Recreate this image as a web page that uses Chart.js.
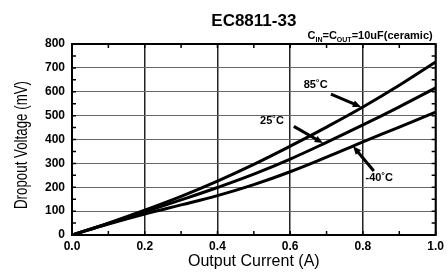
<!DOCTYPE html>
<html>
<head>
<meta charset="utf-8">
<script src="https://cdn.jsdelivr.net/npm/chart.js@4"></script>
<style>
  html, body { margin: 0; padding: 0; background: #fff; }
  #chart { display: block; }
</style>
</head>
<body>
<canvas id="chart" width="448" height="275"></canvas>
<script>
  // Output current (A) and dropout voltage (mV) per temperature
  const currents = [0, 0.1, 0.2, 0.3, 0.4, 0.5, 0.6, 0.7, 0.8, 0.9, 1.0];
  const drop85 = [0, 50, 104, 162, 226, 296, 372, 452, 536, 627, 725];
  const drop25 = [0, 48, 97, 147, 199, 255, 318, 388, 461, 537, 616];
  const dropM40 = [0, 46, 88, 126, 165, 211, 265, 326, 390, 452, 515];

  const seriesNames = ['85˚C', '25˚C', '-40˚C'];
  const xTicks = [0, 0.2, 0.4, 0.6, 0.8, 1.0];
  const yTicks = [0, 100, 200, 300, 400, 500, 600, 700, 800];

  // label text position + arrow (from -> to), in data units
  const callouts = [
    { text: seriesNames[0], tx: 0.67, ty: 628, from: [0.712, 590], to: [0.795, 536] },
    { text: seriesNames[1], tx: 0.55, ty: 478, from: [0.61, 455], to: [0.69, 385] },
    { text: seriesNames[2], tx: 0.845, ty: 240, from: [0.83, 268], to: [0.773, 372] }
  ];

  const toPoints = ys => currents.map((x, i) => ({ x: x, y: ys[i] }));

  const lineStyle = {
    borderColor: '#000',
    borderWidth: 3,
    pointRadius: 0,
    fill: false,
    tension: 0.4
  };

  const FONT = '"Liberation Sans", Arial, sans-serif';

  const framePlugin = {
    id: 'frame',
    afterDatasetsDraw(chart) {
      const { ctx, chartArea: a, scales } = chart;
      const xs = scales.x, ys = scales.y;
      ctx.save();

      // minor ticks, pointing inward
      ctx.strokeStyle = '#000';
      ctx.lineWidth = 1.5;
      for (let v = 0; v <= 1.0001; v += 0.1) {
        const px = xs.getPixelForValue(v);
        ctx.beginPath();
        ctx.moveTo(px, a.bottom); ctx.lineTo(px, a.bottom - 4);
        ctx.moveTo(px, a.top); ctx.lineTo(px, a.top + 4);
        ctx.stroke();
      }
      for (let v = 0; v <= 800; v += 50) {
        const py = ys.getPixelForValue(v);
        ctx.beginPath();
        ctx.moveTo(a.left, py); ctx.lineTo(a.left + 4, py);
        ctx.moveTo(a.right, py); ctx.lineTo(a.right - 4, py);
        ctx.stroke();
      }

      // plot border
      ctx.lineWidth = 2;
      ctx.strokeRect(a.left, a.top, a.right - a.left, a.bottom - a.top);

      // callouts
      callouts.forEach(c => {
        const x1 = xs.getPixelForValue(c.from[0]), y1 = ys.getPixelForValue(c.from[1]);
        const x2 = xs.getPixelForValue(c.to[0]), y2 = ys.getPixelForValue(c.to[1]);
        const ang = Math.atan2(y2 - y1, x2 - x1);
        const head = 9;
        ctx.lineWidth = 3;
        ctx.beginPath();
        ctx.moveTo(x1, y1);
        ctx.lineTo(x2 - Math.cos(ang) * head * 0.8, y2 - Math.sin(ang) * head * 0.8);
        ctx.stroke();
        ctx.beginPath();
        ctx.moveTo(x2, y2);
        ctx.lineTo(x2 - head * Math.cos(ang - 0.4), y2 - head * Math.sin(ang - 0.4));
        ctx.lineTo(x2 - head * Math.cos(ang + 0.4), y2 - head * Math.sin(ang + 0.4));
        ctx.closePath();
        ctx.fillStyle = '#000';
        ctx.fill();

        ctx.font = 'bold 11px ' + FONT;
        ctx.textAlign = 'center';
        ctx.textBaseline = 'middle';
        ctx.fillText(c.text, xs.getPixelForValue(c.tx), ys.getPixelForValue(c.ty));
      });

      // title
      ctx.fillStyle = '#000';
      ctx.font = 'bold 17px ' + FONT;
      ctx.textAlign = 'center';
      ctx.textBaseline = 'middle';
      ctx.fillText('EC8811-33', (a.left + a.right) / 2, 21);

      // subtitle with subscripts, right aligned
      const parts = [['C', 0], ['IN', 1], ['=C', 0], ['OUT', 1], ['=10uF(ceramic)', 0]];
      const big = 'bold 11px ' + FONT, small = 'bold 7px ' + FONT;
      let w = 0;
      parts.forEach(p => { ctx.font = p[1] ? small : big; w += ctx.measureText(p[0]).width; });
      let x = a.right - 3 - w;
      ctx.textAlign = 'left';
      ctx.textBaseline = 'alphabetic';
      parts.forEach(p => {
        ctx.font = p[1] ? small : big;
        ctx.fillText(p[0], x, p[1] ? 42 : 39);
        x += ctx.measureText(p[0]).width;
      });

      // y axis title, condensed like the original narrow face
      ctx.save();
      ctx.translate(22, 145);
      ctx.rotate(-Math.PI / 2);
      ctx.scale(0.74, 1);
      ctx.font = '18px ' + FONT;
      ctx.textAlign = 'center';
      ctx.textBaseline = 'middle';
      ctx.fillText('Dropout Voltage (mV)', 0, 0);
      ctx.restore();

      ctx.restore();
    }
  };

  new Chart(document.getElementById('chart'), {
    type: 'line',
    data: {
      datasets: [
        { label: seriesNames[0], data: toPoints(drop85), ...lineStyle },
        { label: seriesNames[1], data: toPoints(drop25), ...lineStyle },
        { label: seriesNames[2], data: toPoints(dropM40), ...lineStyle }
      ]
    },
    options: {
      responsive: false,
      animation: false,
      devicePixelRatio: 1,
      layout: { padding: { left: 0, right: 11, top: 44, bottom: 0 } },
      plugins: { legend: { display: false }, tooltip: { enabled: false } },
      scales: {
        x: {
          type: 'linear',
          min: 0, max: 1,
          afterBuildTicks: s => { s.ticks = xTicks.map(v => ({ value: v })); },
          afterFit: s => { s.height = 40; },
          ticks: {
            color: '#000',
            padding: 4,
            maxRotation: 0,
            font: { family: FONT, size: 12, weight: 'bold' },
            callback: v => v.toFixed(1)
          },
          grid: { color: '#222', lineWidth: 1.5, drawTicks: false },
          border: { display: false },
          title: {
            display: true,
            text: 'Output Current (A)',
            color: '#000',
            font: { family: FONT, size: 16 },
            padding: { top: 0, bottom: 4 }
          }
        },
        y: {
          min: 0, max: 800,
          afterBuildTicks: s => { s.ticks = yTicks.map(v => ({ value: v })); },
          afterFit: s => { s.width = 72; },
          ticks: {
            color: '#000',
            padding: 7,
            font: { family: FONT, size: 12, weight: 'bold' }
          },
          grid: { color: '#666', lineWidth: 1, drawTicks: false },
          border: { display: false }
        }
      }
    },
    plugins: [framePlugin]
  });
</script>
</body>
</html>
